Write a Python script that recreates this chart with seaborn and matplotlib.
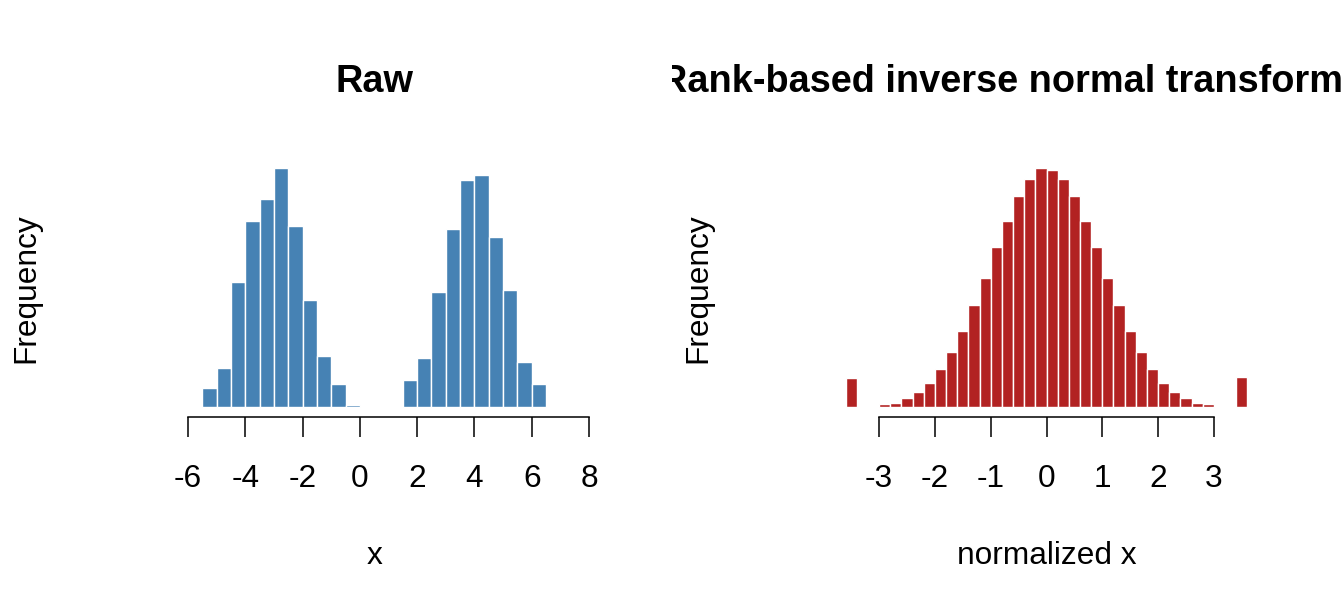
import numpy as np
import pandas as pd
import matplotlib
matplotlib.use("Agg")
import matplotlib.pyplot as plt
import seaborn as sns
from matplotlib.transforms import Bbox, TransformedBbox

# ---- data ----
raw_edges = [-6.5 + 0.5 * i for i in range(29)]          # -6.5 .. 7.5
raw_counts = [1, 2, 84, 166, 529, 786, 878, 1010, 765, 452, 216, 98, 12,
              0, 1, 2, 115, 207, 488, 754, 959, 980, 719, 494, 191, 98, 0, 1]
raw_ticks = [-6, -4, -2, 0, 2, 4, 6, 8]

norm_edges = [round(-3.6 + 0.2 * i, 1) for i in range(37)]  # -3.6 .. 3.6
norm_counts = [96, 0, 0, 10, 14, 30, 50, 80, 126, 183, 254, 337, 428, 529,
               617, 699, 753, 790, 785, 753, 699, 617, 529, 428, 337, 254,
               183, 126, 80, 50, 30, 14, 10, 0, 0, 101]
norm_ticks = [-3, -2, -1, 0, 1, 2, 3]

titles = ["Raw", "Rank-based inverse normal transformation"]
xlabels = ["x", "normalized x"]
ylabel = "Frequency"
colors = ["steelblue", "firebrick"]

# ---- style ----
sns.set_theme(style="white")
plt.rcParams["font.family"] = ["Liberation Sans", "DejaVu Sans"]
plt.rcParams["axes.unicode_minus"] = False

W, H = 1344, 614
fig = plt.figure(figsize=(W / 100, H / 100), dpi=100)

def fx(px):
    return px / W

def fy(py):
    return 1 - py / H

panels = [
    (raw_edges, raw_counts, raw_ticks, 157.6, 590.7, 0),
    (norm_edges, norm_counts, norm_ticks, 829.5, 1263.5, 672),
]
top_px, bot_px = 158.6, 417.0

for i, (edges, counts, ticks, l, r, off) in enumerate(panels):
    ax = fig.add_axes([fx(l), 1 - bot_px / H, fx(r - l), (bot_px - top_px) / H])
    centers = [(edges[k] + edges[k + 1]) / 2 for k in range(len(counts))]
    df = pd.DataFrame({"x": centers, "w": counts})
    sns.histplot(data=df, x="x", weights="w", bins=edges, ax=ax,
                 color=colors[i], alpha=1, edgecolor="white", linewidth=1.0)
    lo, hi = edges[0], edges[-1]
    rng = hi - lo
    ax.set_xlim(lo - 0.04 * rng, hi + 0.04 * rng)
    m = max(counts)
    ax.set_ylim(-0.04 * m, 1.04 * m)
    for s in ["left", "right", "top"]:
        ax.spines[s].set_visible(False)
    ax.spines["bottom"].set_bounds(ticks[0], ticks[-1])
    ax.spines["bottom"].set_color("black")
    ax.spines["bottom"].set_linewidth(1.1)
    ax.set_xticks(ticks)
    ax.set_xticklabels([str(t) for t in ticks])
    ax.set_yticks([])
    ax.tick_params(axis="x", direction="out", length=14.4, width=1.1,
                   color="black", labelcolor="black", pad=19.5,
                   labelsize=22.8, bottom=True)
    ax.set_xlabel("")
    ax.set_ylabel("")
    cx = (l + r) / 2
    t = fig.text(fx(cx), fy(92), titles[i], ha="center", va="baseline",
                 fontsize=27.3, fontweight="bold", color="black")
    t.set_clip_on(True)
    t.set_clip_box(TransformedBbox(Bbox([[off / W, 0], [(off + 672) / W, 1]]),
                                   fig.transFigure))
    fig.text(fx(cx), fy(564), xlabels[i], ha="center", va="baseline",
             fontsize=22.8, color="black")
    fig.text(fx(off + 34.3), fy((top_px + bot_px) / 2), ylabel, rotation=90,
             rotation_mode="anchor", ha="center", va="baseline",
             fontsize=22.8, color="black")

fig.savefig("out.png", dpi=100, facecolor="white")
